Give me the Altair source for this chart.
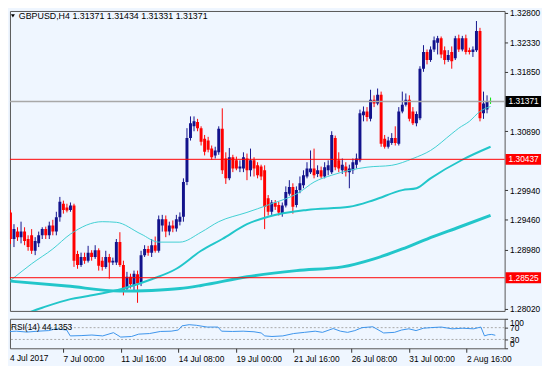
import altair as alt
import pandas as pd

SYMBOL = "GBPUSD,H4"

OPEN = [
    1.2958, 1.2915, 1.2927, 1.2918, 1.2927, 1.2915, 1.2921, 1.2896, 1.2908, 1.2921,
    1.2931, 1.2921, 1.2937, 1.2927, 1.2950, 1.2972, 1.2966, 1.2962, 1.2969, 1.2891,
    1.2873, 1.2886, 1.2880, 1.2893, 1.2886, 1.2897, 1.2880, 1.2870, 1.2886, 1.2877,
    1.2877, 1.2910, 1.2873, 1.2835, 1.2854, 1.2839, 1.2858, 1.2845, 1.2889, 1.2899,
    1.2893, 1.2905, 1.2896, 1.2937, 1.2947, 1.2927, 1.2937, 1.2932, 1.2943, 1.2951,
    1.3007, 1.3078, 1.3097, 1.3104, 1.3094, 1.3077, 1.3074, 1.3061, 1.3050, 1.3055,
    1.3093, 1.3045, 1.3013, 1.3047, 1.3042, 1.3029, 1.3029, 1.3045, 1.3026, 1.3042,
    1.3034, 1.3032, 1.3026, 1.2981, 1.2959, 1.2974, 1.2970, 1.2956, 1.2969, 1.2988,
    1.2999, 1.2970, 1.2994, 1.3002, 1.3016, 1.3023, 1.3029, 1.3020, 1.3026, 1.3016,
    1.3026, 1.3023, 1.3078, 1.3042, 1.3026, 1.3032, 1.3023, 1.3026, 1.3035, 1.3042,
    1.3115, 1.3121, 1.3109, 1.3140, 1.3134, 1.3148, 1.3077, 1.3064, 1.3070, 1.3078,
    1.3069, 1.3121, 1.3132, 1.3140, 1.3121, 1.3102, 1.3110, 1.3190, 1.3217, 1.3204,
    1.3221, 1.3232, 1.3239, 1.3220, 1.3204, 1.3217, 1.3207, 1.3239, 1.3221, 1.3239,
    1.3220, 1.3217, 1.3220, 1.3251, 1.3118, 1.3124, 1.31371,
]
HIGH = [
    1.2962, 1.2939, 1.2934, 1.2943, 1.2934, 1.2921, 1.2931, 1.2918, 1.2927, 1.2934,
    1.2935, 1.2943, 1.2946, 1.2959, 1.2983, 1.2977, 1.2972, 1.2974, 1.2972, 1.2896,
    1.2893, 1.2893, 1.2904, 1.2897, 1.2905, 1.2900, 1.2886, 1.2896, 1.2891, 1.2885,
    1.2915, 1.2926, 1.2880, 1.2862, 1.2859, 1.2864, 1.2864, 1.2896, 1.2905, 1.2904,
    1.2915, 1.2919, 1.2953, 1.2954, 1.2953, 1.2943, 1.2945, 1.2954, 1.2958, 1.3013,
    1.3094, 1.3113, 1.3113, 1.3109, 1.3097, 1.3083, 1.3080, 1.3066, 1.3064, 1.3097,
    1.3126, 1.3055, 1.3062, 1.3051, 1.3048, 1.3042, 1.3055, 1.3053, 1.3061, 1.3047,
    1.3039, 1.3035, 1.3034, 1.2986, 1.2978, 1.2978, 1.2975, 1.2974, 1.3000, 1.3010,
    1.3005, 1.3000, 1.3016, 1.3026, 1.3039, 1.3058, 1.3061, 1.3034, 1.3032, 1.3039,
    1.3042, 1.3089, 1.3082, 1.3055, 1.3045, 1.3039, 1.3035, 1.3045, 1.3053, 1.3124,
    1.3129, 1.3128, 1.3156, 1.3147, 1.3158, 1.3153, 1.3083, 1.3080, 1.3086, 1.3097,
    1.3128, 1.3153, 1.3150, 1.3147, 1.3128, 1.3121, 1.3194, 1.3228, 1.3221, 1.3226,
    1.3242, 1.3243, 1.3242, 1.3226, 1.3220, 1.3226, 1.3243, 1.3245, 1.3243, 1.3245,
    1.3224, 1.3226, 1.3267, 1.3256, 1.3153, 1.3147, 1.31434,
]
LOW = [
    1.2907, 1.2902, 1.2912, 1.2908, 1.2905, 1.2896, 1.2891, 1.2889, 1.2902, 1.2915,
    1.2915, 1.2915, 1.2921, 1.2921, 1.2943, 1.2956, 1.2958, 1.2959, 1.2870, 1.2867,
    1.2870, 1.2875, 1.2877, 1.2880, 1.2883, 1.2864, 1.2864, 1.2867, 1.2851, 1.2873,
    1.2873, 1.2870, 1.2824, 1.2831, 1.2835, 1.2832, 1.2812, 1.2839, 1.2886, 1.2888,
    1.2886, 1.2893, 1.2893, 1.2927, 1.2918, 1.2921, 1.2926, 1.2927, 1.2937, 1.2943,
    1.3002, 1.3074, 1.3089, 1.3089, 1.3066, 1.3050, 1.3055, 1.3043, 1.3045, 1.3051,
    1.3020, 1.3004, 1.3010, 1.3023, 1.3026, 1.3023, 1.3023, 1.3010, 1.3016, 1.3016,
    1.3013, 1.3010, 1.2931, 1.2953, 1.2954, 1.2962, 1.2953, 1.2951, 1.2966, 1.2985,
    1.2956, 1.2966, 1.2989, 1.2997, 1.3013, 1.3020, 1.3013, 1.3015, 1.3013, 1.3013,
    1.3018, 1.3020, 1.3026, 1.3023, 1.3020, 1.3016, 1.2997, 1.3020, 1.3029, 1.3039,
    1.3105, 1.3105, 1.3105, 1.3128, 1.3131, 1.3064, 1.3061, 1.3061, 1.3067, 1.3066,
    1.3066, 1.3118, 1.3129, 1.3105, 1.3099, 1.3097, 1.3107, 1.3185, 1.3197, 1.3201,
    1.3217, 1.3213, 1.3207, 1.3197, 1.3201, 1.3190, 1.3204, 1.3217, 1.3218, 1.3213,
    1.3213, 1.3209, 1.3217, 1.3105, 1.3109, 1.3118, 1.31331,
]
CLOSE = [
    1.2915, 1.2931, 1.2918, 1.2927, 1.2912, 1.2902, 1.2896, 1.2912, 1.2921, 1.2931,
    1.2921, 1.2937, 1.2927, 1.2950, 1.2975, 1.2962, 1.2961, 1.2969, 1.2880, 1.2873,
    1.2886, 1.2880, 1.2893, 1.2886, 1.2897, 1.2872, 1.2870, 1.2886, 1.2877, 1.2880,
    1.2910, 1.2873, 1.2832, 1.2854, 1.2842, 1.2859, 1.2843, 1.2889, 1.2899, 1.2893,
    1.2905, 1.2896, 1.2947, 1.2947, 1.2927, 1.2937, 1.2932, 1.2947, 1.2951, 1.3007,
    1.3078, 1.3102, 1.3105, 1.3094, 1.3072, 1.3056, 1.3059, 1.3047, 1.3058, 1.3093,
    1.3026, 1.3013, 1.3047, 1.3029, 1.3029, 1.3032, 1.3047, 1.3026, 1.3042, 1.3029,
    1.3018, 1.3016, 1.2967, 1.2959, 1.2974, 1.2967, 1.2958, 1.2969, 1.2991, 1.2999,
    1.2967, 1.2994, 1.3005, 1.3018, 1.3029, 1.3029, 1.3018, 1.3026, 1.3016, 1.3031,
    1.3034, 1.3083, 1.3031, 1.3029, 1.3035, 1.3023, 1.3029, 1.3039, 1.3045, 1.3118,
    1.3121, 1.3112, 1.3140, 1.3134, 1.3148, 1.3069, 1.3064, 1.3074, 1.3078, 1.3070,
    1.3121, 1.3132, 1.3140, 1.3109, 1.3102, 1.3117, 1.3190, 1.3217, 1.3204, 1.3221,
    1.3236, 1.3239, 1.3213, 1.3204, 1.3212, 1.3202, 1.3239, 1.3221, 1.3239, 1.3217,
    1.3217, 1.3221, 1.3251, 1.3110, 1.3134, 1.3137, 1.31371,
]

DATE_TICKS = [0, 16, 32, 48, 64, 80, 96, 112, 128]
DATE_LABELS = ["4 Jul 2017", "7 Jul 00:00", "11 Jul 16:00", "14 Jul 08:00", "19 Jul 00:00",
               "21 Jul 16:00", "26 Jul 08:00", "31 Jul 00:00", "2 Aug 16:00"]

PRICE_TICKS = [1.2802, 1.2898, 1.2946, 1.2994, 1.3089, 1.3185, 1.3233, 1.3280]
LEVEL_PRICES = [1.30437, 1.28525]
LAST_PRICE = 1.31371

FAST_BAR = [0, 6, 12, 17, 26, 30, 37, 42, 48, 54, 59, 67, 73, 82, 86, 91, 101, 108, 114, 119, 125, 127, 130, 133, 136]
FAST_VAL = [1.2848, 1.2875, 1.2899, 1.2923, 1.2943, 1.2942, 1.2923, 1.2910, 1.2910, 1.2926, 1.2943, 1.2958, 1.2970,
            1.2991, 1.3007, 1.3018, 1.3031, 1.3034, 1.3045, 1.3058, 1.3085, 1.3094, 1.3105, 1.3121, 1.3129]
MID_BAR = [0, 9, 17, 22, 32, 40, 47, 54, 60, 67, 73, 84, 96, 103, 111, 115, 119, 128, 136]
MID_VAL = [1.2785, 1.2804, 1.2818, 1.2823, 1.2835, 1.2850, 1.2867, 1.2896, 1.2915, 1.2939, 1.2951, 1.2962, 1.2967,
           1.2978, 1.2994, 1.2997, 1.3013, 1.3043, 1.3064]
SLOW_BAR = [0, 16, 31, 40, 48, 54, 67, 81, 94, 103, 111, 118, 127, 136]
SLOW_VAL = [1.2847, 1.2839, 1.2831, 1.2832, 1.2835, 1.2840, 1.2854, 1.2864, 1.2870, 1.2883, 1.2899, 1.2915, 1.2934, 1.2953]

RSI_NAME = "RSI(14)"
RSI_LAST = 44.1353
RSI_BAR = [0, 3, 6, 9, 12, 14, 17, 18, 21, 24, 27, 30, 32, 35, 37, 40, 43, 46, 48, 49, 51, 53, 56, 59, 60, 63, 66,
           69, 71, 72, 74, 77, 80, 83, 86, 88, 91, 93, 95, 97, 99, 102, 105, 108, 110, 112, 114, 116, 118, 121,
           124, 127, 130, 132, 133, 134, 135, 136]
RSI_VAL = [56, 58, 55, 58, 60, 66, 62, 42, 43, 45, 42, 53, 38, 40, 48, 50, 57, 58, 62, 76, 80, 78, 72, 72, 58, 57, 58,
           56, 52, 42, 40, 42, 50, 54, 58, 54, 67, 58, 54, 60, 70, 73, 52, 54, 62, 66, 60, 68, 70, 72,
           66, 68, 66, 72, 42, 46, 47, 44.1353]
RSI_LEVELS = [30, 70]
RSI_TICKS = [0, 30, 70, 100]

FONT = "Liberation Sans"
FS = 8.5
BG = "#EFF6FF"
MA_COLOR = "#22C6CA"
W = 503
H_MAIN = 305
H_RSI = 30

bars = pd.DataFrame({"bar": list(range(len(OPEN))), "open": OPEN, "high": HIGH, "low": LOW, "close": CLOSE})
bars["dir"] = ["up" if c > o else ("down" if c < o else "flat") for o, c in zip(OPEN, CLOSE)]

x_scale = alt.Scale(domain=[1.256, 138.59], nice=False, zero=False)
y_scale = alt.Scale(domain=[1.27989, 1.32832], nice=False, zero=False)
dir_scale = alt.Scale(domain=["up", "down", "flat"], range=["#12128C", "#FF0000", "#00E600"])
dir_color = alt.Color("dir:N", scale=dir_scale, legend=None)

price_axis = alt.Axis(orient="right", values=PRICE_TICKS, format=".5f", title=None, grid=False,
                      domain=False, ticks=True, tickSize=3, tickColor="#333333", labelPadding=2,
                      labelFont=FONT, labelFontSize=FS, labelColor="#000000", labelOverlap=False)

base = alt.Chart(bars)
wicks = base.mark_rule(strokeWidth=1, clip=True).encode(
    x=alt.X("bar:Q", scale=x_scale, axis=None),
    y=alt.Y("low:Q", scale=y_scale, axis=price_axis),
    y2="high:Q",
    color=dir_color,
)
bodies = base.transform_filter("datum.dir != 'flat'").mark_bar(size=3, clip=True).encode(
    x=alt.X("bar:Q", scale=x_scale, axis=None),
    y=alt.Y("open:Q", scale=y_scale, axis=price_axis),
    y2="close:Q",
    color=dir_color,
)
flats = base.transform_filter("datum.dir == 'flat'").mark_rule(
    strokeWidth=1, xOffset=-1.5, x2Offset=1.5, clip=True).encode(
    x=alt.X("bar:Q", scale=x_scale, axis=None),
    x2="bar:Q",
    y=alt.Y("open:Q", scale=y_scale, axis=price_axis),
    color=dir_color,
)


def ma_layer(bars_idx, vals, width, color):
    df = pd.DataFrame({"bar": bars_idx, "val": vals})
    return alt.Chart(df).mark_line(color=color, strokeWidth=width, clip=True, interpolate="monotone").encode(
        x=alt.X("bar:Q", scale=x_scale, axis=None),
        y=alt.Y("val:Q", scale=y_scale, axis=price_axis),
    )


slow = ma_layer(SLOW_BAR, SLOW_VAL, 3, MA_COLOR)
mid = ma_layer(MID_BAR, MID_VAL, 2, MA_COLOR)
fast = ma_layer(FAST_BAR, FAST_VAL, 1, "#3FCFD2")

levels_df = pd.DataFrame({"price": LEVEL_PRICES})
levels_df["label"] = [f"{p:.5f}" for p in LEVEL_PRICES]
last_df = pd.DataFrame({"price": [LAST_PRICE], "label": [f"{LAST_PRICE:.5f}"]})

levels = alt.Chart(levels_df).mark_rule(color="#FF0000", strokeWidth=1).encode(
    y=alt.Y("price:Q", scale=y_scale, axis=price_axis))
last_line = alt.Chart(last_df).mark_rule(color="#A8A8A8", strokeWidth=1.5).encode(
    y=alt.Y("price:Q", scale=y_scale, axis=price_axis))

box_levels = alt.Chart(levels_df).mark_rect(color="#FF0000", yOffset=-5.5, y2Offset=5.5).encode(
    x=alt.value(W + 1), x2=alt.value(W + 37),
    y=alt.Y("price:Q", scale=y_scale, axis=price_axis), y2="price:Q")
box_last = alt.Chart(last_df).mark_rect(color="#000000", yOffset=-5.5, y2Offset=5.5).encode(
    x=alt.value(W + 1), x2=alt.value(W + 37),
    y=alt.Y("price:Q", scale=y_scale, axis=price_axis), y2="price:Q")
txt_levels = alt.Chart(levels_df).mark_text(align="left", baseline="middle", color="white",
                                             font=FONT, fontSize=FS).encode(
    x=alt.value(W + 4), y=alt.Y("price:Q", scale=y_scale, axis=price_axis), text="label:N")
txt_last = alt.Chart(last_df).mark_text(align="left", baseline="middle", color="white",
                                         font=FONT, fontSize=FS).encode(
    x=alt.value(W + 4), y=alt.Y("price:Q", scale=y_scale, axis=price_axis), text="label:N")

hdr_df = pd.DataFrame({"t": [f"{SYMBOL}  {OPEN[-1]:.5f} {HIGH[-1]:.5f} {LOW[-1]:.5f} {CLOSE[-1]:.5f}"]})
hdr_text = alt.Chart(hdr_df).mark_text(align="left", baseline="middle", font=FONT, fontSize=FS + 0.5,
                                        color="#000000").encode(
    x=alt.value(9), y=alt.value(5), text="t:N")
tri = alt.Chart(hdr_df).mark_point(shape="triangle-down", filled=True, color="#000000",
                                    size=16, opacity=1).encode(x=alt.value(3), y=alt.value(5))

main = alt.layer(
    wicks, bodies, flats, slow, mid, fast, levels, last_line,
    box_levels, box_last, txt_levels, txt_last, tri, hdr_text,
).properties(width=W, height=H_MAIN)

# RSI panel
rsi_scale = alt.Scale(domain=[0, 100], nice=False, zero=False)
label_expr = ("[" + ",".join("'" + s + "'" for s in DATE_LABELS) + "][indexof(["
              + ",".join(str(t) for t in DATE_TICKS) + "], datum.value)]")
date_axis = alt.Axis(values=DATE_TICKS[1:], labelExpr=label_expr, title=None, grid=False, domain=False,
                     tickSize=4, tickColor="#333333", labelAlign="left", labelPadding=2,
                     labelFont=FONT, labelFontSize=FS, labelColor="#000000", labelOverlap=False)
rsi_axis = alt.Axis(orient="right", values=RSI_TICKS, title=None, grid=False, domain=False,
                    tickSize=3, tickColor="#333333", labelPadding=2, labelFlush=True,
                    labelFont=FONT, labelFontSize=FS, labelColor="#000000", labelOverlap=False)

rsi_df = pd.DataFrame({"bar": RSI_BAR, "val": RSI_VAL})
rsi_lv = alt.Chart(pd.DataFrame({"val": RSI_LEVELS})).mark_rule(
    color="#A8A8A8", strokeDash=[2, 2], strokeWidth=1).encode(
    y=alt.Y("val:Q", scale=rsi_scale, axis=rsi_axis))
rsi_line = alt.Chart(rsi_df).mark_line(color="#3A93EC", strokeWidth=1, clip=True).encode(
    x=alt.X("bar:Q", scale=x_scale, axis=date_axis),
    y=alt.Y("val:Q", scale=rsi_scale, axis=rsi_axis))
rsi_lbl = alt.Chart(pd.DataFrame({"t": [f"{RSI_NAME} {RSI_LAST:.4f}"]})).mark_text(
    align="left", baseline="middle", font=FONT, fontSize=FS, color="#000000").encode(
    x=alt.value(1), y=alt.value(8), text="t:N")
first_date = alt.Chart(pd.DataFrame({"t": [DATE_LABELS[0]]})).mark_text(
    align="left", baseline="top", font=FONT, fontSize=FS, color="#000000").encode(
    x=alt.value(0), y=alt.value(H_RSI + 6), text="t:N")

rsi = alt.layer(rsi_lv, rsi_line, rsi_lbl, first_date).properties(width=W, height=H_RSI)

chart = alt.vconcat(main, rsi, spacing=3).properties(
    padding={"left": 0, "top": -3, "right": 0, "bottom": 2},
    background=BG,
).configure_view(stroke="#555555", strokeWidth=1, fill=BG)

chart.save("out.html", embed_options={"renderer": "svg", "actions": False})
